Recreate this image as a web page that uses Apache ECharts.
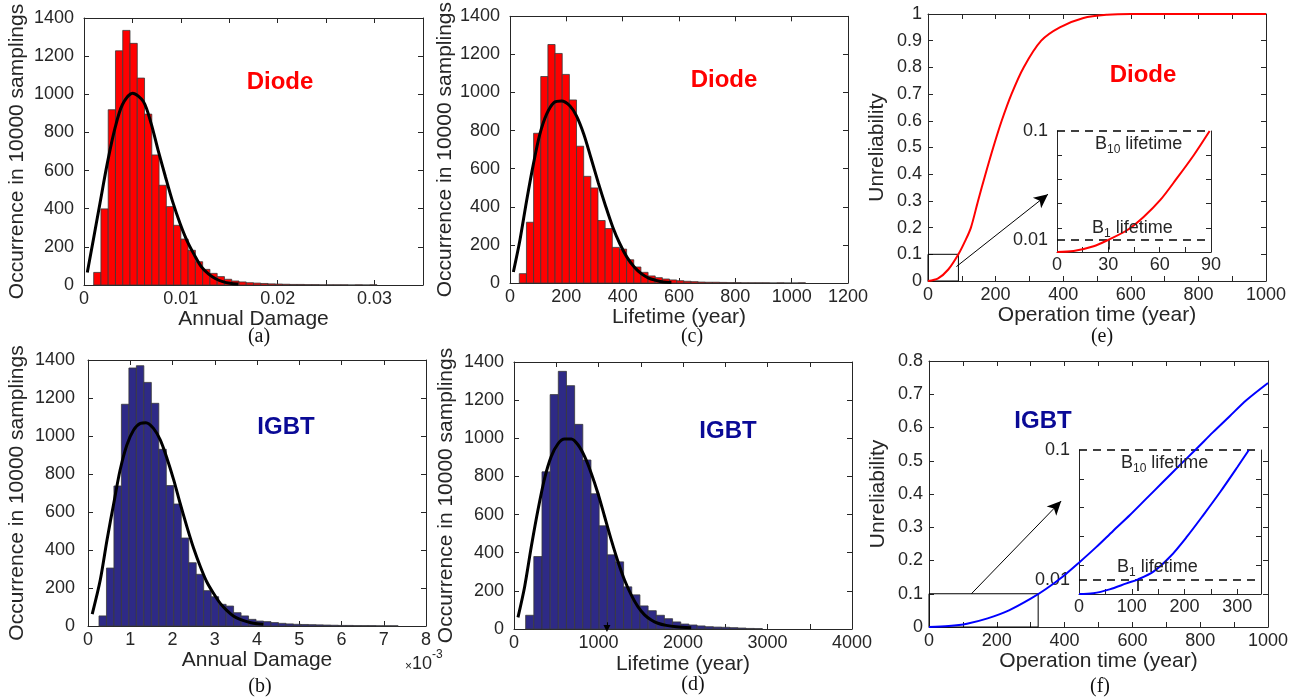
<!DOCTYPE html>
<html><head><meta charset="utf-8">
<script src="https://cdn.jsdelivr.net/npm/echarts@6/dist/echarts.min.js"></script>
<style>html,body{margin:0;padding:0;background:#fff}#c{width:1301px;height:700px}</style>
</head><body><div id="c"></div>
<script>
// ---------------- DATA ----------------
// (a) Diode annual damage histogram
const diodeDamageBinStart = 0.001;
const diodeDamageBinWidth = 0.00075;
const diodeDamageCounts = [66, 399, 919, 1228, 1335, 1267, 1085, 896, 682, 523, 411, 313, 241, 182, 122, 82, 61, 44, 30, 21, 16, 12, 10, 8, 6, 5, 4, 3, 3, 2, 2, 1, 1, 1, 1, 0, 1, 0, 1];
const diodeDamageFit = [[0.00034,66],[0.00096,236],[0.00165,429],[0.00241,639],[0.0032,822],[0.00396,945],[0.00502,1006],[0.00613,962],[0.00692,849],[0.00764,709],[0.0084,569],[0.00915,437],[0.00991,324],[0.01063,233],[0.01139,158],[0.01211,96],[0.01284,58],[0.01359,33],[0.01432,18],[0.01507,9],[0.01593,5]];
const diodeDamageXTicks = [0.005, 0.01, 0.015, 0.02, 0.025, 0.03];
const diodeDamageXLabels = [0, 0.01, 0.02, 0.03];

// (c) Diode lifetime histogram
const diodeLifeBinStart = 33;
const diodeLifeBinWidth = 25.4;
const diodeLifeCounts = [49, 319, 786, 1084, 1252, 1205, 1095, 961, 718, 560, 499, 328, 286, 187, 178, 122, 84, 56, 37, 28, 21, 16, 12, 9, 7, 5, 4, 4, 3, 2, 2, 1, 1, 1, 1, 0, 1, 0, 0, 1];
const diodeLifeFit = [[12,58],[35,223],[59,432],[83,624],[106,781],[130,886],[156,947],[183,955],[213,929],[236,877],[262,781],[287,659],[313,528],[339,406],[365,293],[390,206],[415,136],[441,84],[466,49],[492,26],[518,14],[544,5],[573,2]];
const diodeLifeXLabels = [0, 200, 400, 600, 800, 1000, 1200];

// (b) IGBT annual damage histogram (x in 1e-3)
const igbtDamageBinStart = 0.26;
const igbtDamageBinWidth = 0.177;
const igbtDamageCounts = [53, 305, 737, 1167, 1358, 1370, 1282, 1172, 930, 739, 642, 463, 333, 272, 186, 154, 114, 105, 70, 53, 35, 26, 23, 18, 14, 11, 9, 8, 7, 6, 5, 4, 3, 3, 2, 2, 2, 1, 1, 1];
const igbtDamageFit = [[0.10,63],[0.29,242],[0.45,453],[0.61,646],[0.76,821],[0.92,953],[1.08,1032],[1.24,1067],[1.37,1070],[1.55,1040],[1.71,979],[1.87,882],[2.03,768],[2.18,646],[2.34,523],[2.50,409],[2.66,312],[2.81,233],[2.97,172],[3.13,119],[3.29,81],[3.44,53],[3.60,35],[3.76,23],[3.92,14],[4.15,9]];
const igbtDamageXLabels = [0, 1, 2, 3, 4, 5, 6, 7, 8];

// (d) IGBT lifetime histogram
const igbtLifeBinStart = 138;
const igbtLifeBinWidth = 96.6;
const igbtLifeCounts = [72, 380, 824, 1229, 1351, 1276, 1073, 886, 709, 541, 389, 352, 221, 179, 121, 96, 72, 54, 37, 26, 21, 16, 12, 10, 9, 7, 5, 3, 2];
const igbtLifeFit = [[47,61],[126,222],[205,432],[284,625],[363,791],[441,905],[520,971],[599,996],[678,996],[757,966],[835,905],[914,817],[993,712],[1072,590],[1151,467],[1230,354],[1308,257],[1387,179],[1466,117],[1545,74],[1624,47],[1703,30],[1801,19],[1919,12],[2097,7]];
const igbtLifeXLabels = [0, 1000, 2000, 3000, 4000];
const igbtLifeXTicks = [500, 1000, 1500, 2000, 2500, 3000, 3500];
const igbtLifeMarker = 1100;

const countLabels = [0, 200, 400, 600, 800, 1000, 1200, 1400];

// (e) Diode unreliability
const diodeUnrel = [[0,0],[30,0.01],[60,0.043],[90,0.1],[110,0.15],[127,0.2],[148,0.3],[170,0.4],[193,0.5],[218,0.6],[247,0.7],[283,0.8],[335,0.9],[390,0.95],[460,0.985],[530,0.997],[600,1],[1000,1]];
const diodeUnrelInset = [[0,0],[9.7,0.0008],[21.4,0.0047],[30,0.0101],[40.9,0.018],[50.6,0.029],[60.4,0.043],[70.1,0.061],[79.9,0.08],[89.2,0.1]];
const diodeB1 = 30;
const diodeZoomBox = [90, 0.1];
const diodeUnrelYLabels = [0, 0.1, 0.2, 0.3, 0.4, 0.5, 0.6, 0.7, 0.8, 0.9, 1];
const diodeInsetXLabels = [0, 30, 60, 90];
const diodeInsetXTicks = [15, 30, 45, 60, 75];

// (f) IGBT unreliability
const igbtUnrel = [[0,0],[58,0.003],[112,0.01],[173,0.026],[236,0.05],[300,0.085],[346,0.115],[395,0.152],[444,0.195],[494,0.241],[543,0.289],[592,0.336],[641,0.386],[690,0.436],[739,0.486],[789,0.536],[838,0.586],[887,0.634],[936,0.682],[1000,0.734]];
const igbtUnrelInset = [[0,0],[27,0.0005],[58,0.0032],[90,0.0074],[112,0.0102],[141,0.0155],[173,0.026],[205,0.04],[236,0.055],[268,0.071],[300,0.088],[322,0.1]];
const igbtB1 = 112;
const igbtZoomBox = [322, 0.1];
const igbtUnrelYLabels = [0, 0.1, 0.2, 0.3, 0.4, 0.5, 0.6, 0.7, 0.8];
const igbtInsetXLabels = [0, 100, 200, 300];
const igbtInsetXTicks = [50, 100, 150, 200, 250, 300];

const timeXLabels = [0, 200, 400, 600, 800, 1000];
const timeXTicks = [100, 200, 300, 400, 500, 600, 700, 800, 900];
const insetYLabels = [0.01, 0.1];
const insetYTicks = [0.02, 0.04, 0.06, 0.08];

// ---------------- CHART ----------------
const FONT = '"Liberation Sans", Arial, Helvetica, sans-serif';
const AX = '#262626';
const RED = '#ff0000';
const NAVY_BAR = '#2e2a86';
const NAVY_TXT = '#0a0a96';

const grids = [
  {left: 84,  top: 18,  width: 339, height: 267}, // 0 a
  {left: 510, top: 15,  width: 338, height: 268}, // 1 c
  {left: 928, top: 14,  width: 338, height: 267}, // 2 e
  {left: 88,  top: 360, width: 338, height: 266}, // 3 b
  {left: 514, top: 362, width: 338, height: 267}, // 4 d
  {left: 929, top: 361, width: 339, height: 266}, // 5 f
  {left: 1057, top: 131, width: 154, height: 121}, // 6 e inset
  {left: 1079, top: 450, width: 182, height: 144}  // 7 f inset
];

const xAxes = [], yAxes = [];
const fmt = v => String(v);
function addAxes(g, x, y, opts) {
  opts = opts || {};
  const tickStyle = {show: true, inside: true, length: 5, lineStyle: {color: AX, width: 1}};
  const lineStyle = {show: true, onZero: false, lineStyle: {color: AX, width: 1}};
  const xi = xAxes.length;
  xAxes.push({
    type: 'value', gridIndex: g, position: 'bottom', min: x.min, max: x.max,
    name: x.name || '', nameLocation: 'middle', nameGap: x.nameGap || 20,
    nameTextStyle: {fontFamily: FONT, fontSize: 21, color: AX},
    axisLine: lineStyle,
    axisTick: Object.assign({}, tickStyle, {customValues: x.ticks || x.labels}),
    axisLabel: {customValues: x.labels, formatter: fmt, fontFamily: FONT, fontSize: 18, color: AX, margin: x.margin || 5},
    splitLine: {show: false}
  });
  if (!opts.noTop) {
    xAxes.push({
      type: 'value', gridIndex: g, position: 'top', min: x.min, max: x.max,
      axisLine: lineStyle,
      axisTick: Object.assign({}, tickStyle, {customValues: x.ticks || x.labels}),
      axisLabel: {show: false}, splitLine: {show: false}
    });
  }
  const yi = yAxes.length;
  yAxes.push({
    type: 'value', gridIndex: g, position: 'left', min: y.min, max: y.max,
    name: y.name || '', nameLocation: 'middle', nameGap: y.nameGap || 40,
    nameTextStyle: {fontFamily: FONT, fontSize: 21, color: AX},
    axisLine: lineStyle,
    axisTick: Object.assign({}, tickStyle, {customValues: y.ticks || y.labels}),
    axisLabel: {customValues: y.labels, formatter: fmt, fontFamily: FONT, fontSize: 18, color: AX, margin: y.margin || 10},
    splitLine: {show: false}
  });
  yAxes.push({
    type: 'value', gridIndex: g, position: 'right', min: y.min, max: y.max,
    axisLine: lineStyle,
    axisTick: Object.assign({}, tickStyle, {customValues: y.ticks || y.labels}),
    axisLabel: {show: false}, splitLine: {show: false}
  });
  return {xi, yi};
}

const occName = 'Occurrence in 10000 samplings';
const A = addAxes(0, {min: 0, max: 0.035, labels: diodeDamageXLabels, ticks: diodeDamageXTicks, name: 'Annual Damage', nameGap: 19},
                     {min: 0, max: 1400, labels: countLabels, name: occName, nameGap: 56});
const C = addAxes(1, {min: 0, max: 1200, labels: diodeLifeXLabels, name: 'Lifetime (year)', nameGap: 22},
                     {min: 0, max: 1400, labels: countLabels, name: occName, nameGap: 54});
const E = addAxes(2, {min: 0, max: 1000, labels: timeXLabels, ticks: timeXTicks, name: 'Operation time (year)', nameGap: 19},
                     {min: 0, max: 1, labels: diodeUnrelYLabels, name: 'Unreliability', nameGap: 40, margin: 6});
const B = addAxes(3, {min: 0, max: 8, labels: igbtDamageXLabels, name: 'Annual Damage', nameGap: 23},
                     {min: 0, max: 1400, labels: countLabels, name: occName, nameGap: 60, margin: 13});
const D = addAxes(4, {min: 0, max: 4000, labels: igbtLifeXLabels, ticks: igbtLifeXTicks, name: 'Lifetime (year)', nameGap: 25},
                     {min: 0, max: 1400, labels: countLabels, name: occName, nameGap: 57});
const F = addAxes(5, {min: 0, max: 1000, labels: timeXLabels, ticks: timeXTicks, name: 'Operation time (year)', nameGap: 24},
                     {min: 0, max: 0.8, labels: igbtUnrelYLabels, name: 'Unreliability', nameGap: 40, margin: 6});
const EI = addAxes(6, {min: 0, max: 90, labels: diodeInsetXLabels, ticks: diodeInsetXTicks, margin: 4},
                      {min: 0, max: 0.1, labels: insetYLabels, ticks: insetYTicks, margin: 9}, {noTop: true});
const FI = addAxes(7, {min: 0, max: 345, labels: igbtInsetXLabels, ticks: igbtInsetXTicks, margin: 4},
                      {min: 0, max: 0.1, labels: insetYLabels, ticks: insetYTicks, margin: 9}, {noTop: true});

function bins(start, width, counts) {
  return counts.map((c, i) => [start + i * width, start + (i + 1) * width, c]);
}
function histSeries(ax, data, fill) {
  return {
    type: 'custom', xAxisIndex: ax.xi, yAxisIndex: ax.yi, data: data,
    encode: {x: [0, 1], y: 2},
    renderItem: function (params, api) {
      const p0 = api.coord([api.value(0), api.value(2)]);
      const p1 = api.coord([api.value(1), 0]);
      return {type: 'rect', shape: {x: p0[0], y: p0[1], width: p1[0] - p0[0], height: p1[1] - p0[1]},
              style: {fill: fill, stroke: '#3a3a3a', lineWidth: 0.8}};
    }
  };
}
function lineSeries(ax, data, color, width, extra) {
  return Object.assign({
    type: 'line', xAxisIndex: ax.xi, yAxisIndex: ax.yi, data: data, showSymbol: false, symbol: 'none',
    smooth: 0.3, lineStyle: {color: color, width: width}, z: 5
  }, extra || {});
}
const arrowLine = (from, to) => ({
  symbol: ['none', 'arrow'], symbolSize: [10, 14], silent: true, label: {show: false},
  lineStyle: {color: '#000', width: 1, type: 'solid'},
  data: [[{coord: from}, {coord: to}]]
});
const boxArea = (corner) => ({
  silent: true, itemStyle: {color: 'rgba(0,0,0,0)', borderColor: '#000', borderWidth: 1},
  data: [[{coord: [0, 0]}, {coord: corner}]]
});
const insetDash = (b1) => ({
  symbol: ['none', 'none'], silent: true, label: {show: false},
  data: [
    {yAxis: 0.1, lineStyle: {color: '#000', width: 1.5, type: [8, 6]}},
    {yAxis: 0.01, lineStyle: {color: '#000', width: 1.5, type: [8, 6]}},
    [{coord: [b1, 0.01], lineStyle: {color: '#000', width: 1.5, type: 'solid'}}, {coord: [b1, 0.002]}]
  ]
});

const series = [
  histSeries(A, bins(diodeDamageBinStart, diodeDamageBinWidth, diodeDamageCounts), RED),
  lineSeries(A, diodeDamageFit, '#000', 3),
  histSeries(C, bins(diodeLifeBinStart, diodeLifeBinWidth, diodeLifeCounts), RED),
  lineSeries(C, diodeLifeFit, '#000', 3),
  histSeries(B, bins(igbtDamageBinStart, igbtDamageBinWidth, igbtDamageCounts), NAVY_BAR),
  lineSeries(B, igbtDamageFit, '#000', 3),
  histSeries(D, bins(igbtLifeBinStart, igbtLifeBinWidth, igbtLifeCounts), NAVY_BAR),
  lineSeries(D, igbtLifeFit, '#000', 3, {
    markLine: {symbol: ['none', 'triangle'], symbolSize: [7, 7], silent: true, label: {show: false},
      lineStyle: {color: '#000', width: 1, type: 'solid'},
      data: [[{coord: [igbtLifeMarker, 35]}, {coord: [igbtLifeMarker, 3]}]]}
  }),
  lineSeries(E, diodeUnrel, RED, 2, {
    markArea: boxArea(diodeZoomBox),
    markLine: arrowLine([84, 0.054], [355, 0.325])
  }),
  lineSeries(F, igbtUnrel, '#0000ff', 2, {
    markArea: boxArea(igbtZoomBox),
    markLine: arrowLine([125, 0.1], [390, 0.379])
  }),
  lineSeries(EI, diodeUnrelInset, RED, 2, {markLine: insetDash(diodeB1)}),
  lineSeries(FI, igbtUnrelInset, '#0000ff', 2, {markLine: insetDash(igbtB1)})
];

const txt = (x, y, text, style) => ({type: 'text', x: x, y: y, silent: true, z: 50,
  style: Object.assign({text: text, fontFamily: FONT, fill: AX, align: 'center', verticalAlign: 'middle'}, style || {})});
const bold = (color) => ({fontSize: 24, fontWeight: 'bold', fill: color});
const cap = {fontFamily: '"Liberation Serif", "Times New Roman", serif', fontSize: 20, fill: '#111'};
const bRich = {
  b: {fontFamily: FONT, fontSize: 18, fill: AX, lineHeight: 24, verticalAlign: 'middle'},
  s: {fontFamily: FONT, fontSize: 12, fill: AX, lineHeight: 24, verticalAlign: 'bottom'}
};
const graphics = [
  txt(280, 82, 'Diode', bold(RED)),
  txt(724, 80, 'Diode', bold(RED)),
  txt(1143, 75, 'Diode', bold(RED)),
  txt(286, 427, 'IGBT', bold(NAVY_TXT)),
  txt(728, 431, 'IGBT', bold(NAVY_TXT)),
  txt(1043, 421, 'IGBT', bold(NAVY_TXT)),
  txt(259, 337, '(a)', cap), txt(692, 337, '(c)', cap), txt(1102, 337, '(e)', cap),
  txt(260, 687, '(b)', cap), txt(693, 685, '(d)', cap), txt(1100, 687, '(f)', cap),
  txt(1095, 144, '{b|B}{s|10}{b| lifetime}', {align: 'left', rich: bRich}),
  txt(1092, 228, '{b|B}{s|1}{b| lifetime}', {align: 'left', rich: bRich}),
  txt(1121, 463, '{b|B}{s|10}{b| lifetime}', {align: 'left', rich: bRich}),
  txt(1117, 567, '{b|B}{s|1}{b| lifetime}', {align: 'left', rich: bRich}),
  txt(405, 661, '{m|×}{n|10}{p|-3}', {align: 'left', rich: {
    m: {fontFamily: FONT, fontSize: 12, fill: AX, lineHeight: 24, verticalAlign: 'bottom'},
    n: {fontFamily: FONT, fontSize: 18, fill: AX, lineHeight: 24, verticalAlign: 'bottom'},
    p: {fontFamily: FONT, fontSize: 12, fill: AX, lineHeight: 24, verticalAlign: 'top'}
  }})
];

const chart = echarts.init(document.getElementById('c'), null, {renderer: 'canvas'});
chart.setOption({
  animation: false,
  backgroundColor: '#fff',
  grid: grids.map(g => Object.assign({containLabel: false}, g)),
  xAxis: xAxes,
  yAxis: yAxes,
  series: series,
  graphic: graphics
});
</script>
</body></html>
